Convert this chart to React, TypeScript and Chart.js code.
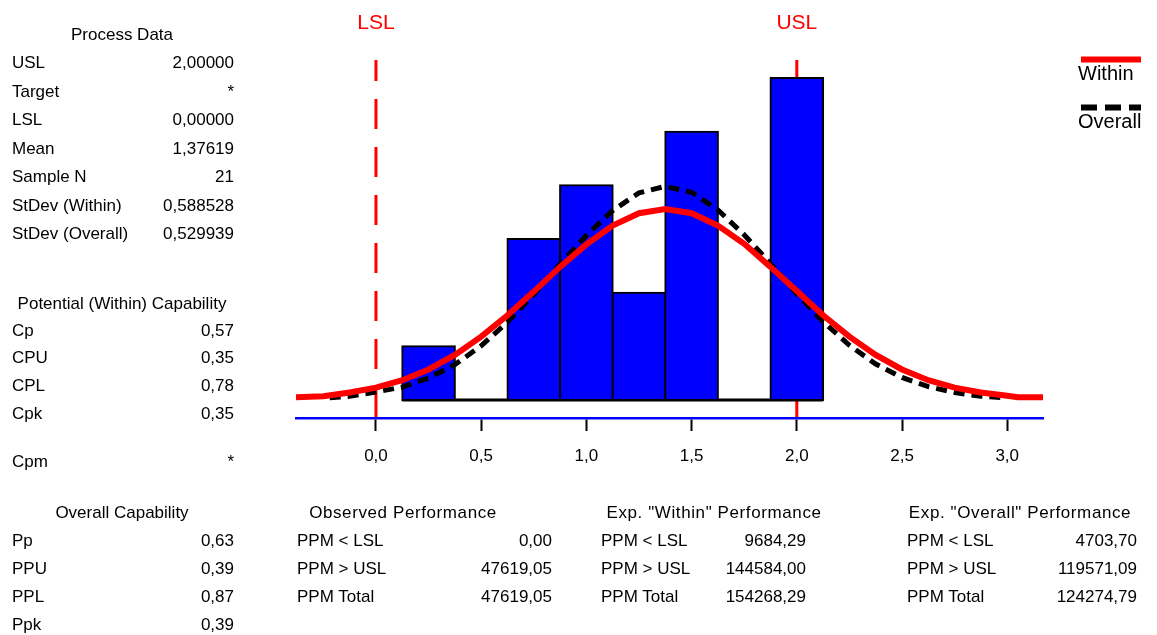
import React, { useEffect, useRef } from "react";
import { Chart, registerables } from "chart.js";

Chart.register(...registerables);

// ---------- chart data ----------
const binCenters = [0.25, 0.5, 0.75, 1.0, 1.25, 1.5, 1.75, 2.0];
const binCounts = [1, 0, 3, 4, 2, 5, 0, 6];
const binWidth = 0.25;

const specLimits = [0, 2];
const specNames = ["LSL", "USL"];

const xTicks = [0, 0.5, 1.0, 1.5, 2.0, 2.5, 3.0];
const xMin = -0.38;
const xMax = 3.17;
const yMin = -0.335;
const yMax = 6.335;

const withinX = [-0.38, -0.25, -0.125, 0, 0.125, 0.25, 0.375, 0.5, 0.625, 0.75, 0.875, 1.0, 1.125, 1.25, 1.375, 1.5, 1.625, 1.75, 1.875, 2.0, 2.125, 2.25, 2.375, 2.5, 2.625, 2.75, 2.875, 3.0, 3.05, 3.17];
const withinY = [0.05, 0.07, 0.14, 0.23, 0.37, 0.57, 0.84, 1.18, 1.58, 2.02, 2.48, 2.9, 3.25, 3.48, 3.56, 3.48, 3.25, 2.91, 2.48, 2.03, 1.58, 1.18, 0.84, 0.57, 0.37, 0.23, 0.14, 0.08, 0.05, 0.05];

const overallX = [-0.22, -0.125, 0, 0.125, 0.25, 0.375, 0.5, 0.625, 0.75, 0.875, 1.0, 1.125, 1.25, 1.375, 1.5, 1.625, 1.75, 1.875, 2.0, 2.125, 2.25, 2.375, 2.5, 2.625, 2.75, 2.875, 3.0];
const overallY = [0.04, 0.07, 0.15, 0.24, 0.41, 0.66, 1.01, 1.45, 1.97, 2.53, 3.07, 3.53, 3.86, 3.98, 3.87, 3.54, 3.08, 2.54, 1.98, 1.46, 1.02, 0.67, 0.42, 0.25, 0.14, 0.07, 0.04];

const legendNames = ["Within", "Overall"];

// ---------- text panels ----------
const processLabels = ["USL", "Target", "LSL", "Mean", "Sample N", "StDev (Within)", "StDev (Overall)"];
const processValues = ["2,00000", "*", "0,00000", "1,37619", "21", "0,588528", "0,529939"];
const potentialLabels = ["Cp", "CPU", "CPL", "Cpk", "Cpm"];
const potentialValues = ["0,57", "0,35", "0,78", "0,35", "*"];
const overallCapLabels = ["Pp", "PPU", "PPL", "Ppk"];
const overallCapValues = ["0,63", "0,39", "0,87", "0,39"];
const ppmLabels = ["PPM < LSL", "PPM > USL", "PPM Total"];
const observedValues = ["0,00", "47619,05", "47619,05"];
const expWithinValues = ["9684,29", "144584,00", "154268,29"];
const expOverallValues = ["4703,70", "119571,09", "124274,79"];

const FONT = '"Liberation Sans", Arial, sans-serif';
const FS = 17;
const W = 1157;
const H = 635;

type TProps = { text: string; x: number; base: number; align?: "left" | "right" | "center"; ls?: number };

function T({ text, x, base, align = "left", ls = 0 }: TProps) {
  const style: React.CSSProperties = {
    position: "absolute",
    top: base - 14.4,
    fontFamily: FONT,
    fontSize: FS,
    lineHeight: FS + "px",
    letterSpacing: ls ? ls + "px" : undefined,
    whiteSpace: "nowrap",
    color: "#000",
  };
  if (align === "left") style.left = x;
  else if (align === "right") style.right = W - x;
  else {
    style.left = x;
    style.transform = "translateX(-50%)";
  }
  return <div style={style}>{text}</div>;
}

const overlayPlugin = {
  id: "overlay",
  afterDraw(chart: any) {
    const ctx = chart.ctx as CanvasRenderingContext2D;
    const xs = chart.scales.x;
    ctx.save();
    ctx.fillStyle = "#ff0000";
    ctx.font = `21px ${FONT}`;
    ctx.textAlign = "center";
    ctx.textBaseline = "alphabetic";
    specLimits.forEach((v, i) => {
      ctx.fillText(specNames[i], xs.getPixelForValue(v), 29);
    });
    ctx.lineWidth = 6;
    ctx.strokeStyle = "#ff0000";
    ctx.setLineDash([]);
    ctx.beginPath();
    ctx.moveTo(1081, 59.5);
    ctx.lineTo(1141, 59.5);
    ctx.stroke();
    ctx.strokeStyle = "#000000";
    ctx.setLineDash([16, 8]);
    ctx.beginPath();
    ctx.moveTo(1081, 107.5);
    ctx.lineTo(1141, 107.5);
    ctx.stroke();
    ctx.setLineDash([]);
    ctx.fillStyle = "#000";
    ctx.font = `20px ${FONT}`;
    ctx.textAlign = "left";
    ctx.fillText(legendNames[0], 1078, 80);
    ctx.fillText(legendNames[1], 1078, 128);
    ctx.restore();
  },
};

function CapabilityChart() {
  const ref = useRef<HTMLCanvasElement | null>(null);
  useEffect(() => {
    if (!ref.current) return;
    const xAxisHeight = 45;
    const chart = new Chart(ref.current, {
      type: "bar",
      data: {
        datasets: [
          {
            type: "line",
            label: legendNames[0],
            data: withinX.map((x, i) => ({ x, y: withinY[i] })),
            borderColor: "#ff0000",
            borderWidth: 6,
            pointRadius: 0,
            tension: 0,
            fill: false,
            order: 0,
          } as any,
          {
            type: "line",
            label: legendNames[1],
            data: overallX.map((x, i) => ({ x, y: overallY[i] })),
            borderColor: "#000000",
            borderWidth: 5,
            borderDash: [11, 7],
            pointRadius: 0,
            tension: 0,
            fill: false,
            order: 1,
          } as any,
          {
            type: "bar",
            label: "Histogram",
            data: binCenters.map((x, i) => ({ x, y: binCounts[i] })),
            backgroundColor: "#0000ff",
            borderColor: "#000000",
            borderWidth: 2,
            borderSkipped: false,
            inflateAmount: 1,
            barPercentage: 1,
            categoryPercentage: 1,
            order: 2,
          } as any,
          {
            type: "line",
            label: "base",
            data: [
              { x: binCenters[0] - binWidth / 2, y: 0 },
              { x: binCenters[binCenters.length - 1] + binWidth / 2, y: 0 },
            ],
            borderColor: "#000000",
            borderWidth: 3,
            pointRadius: 0,
            order: 3,
          } as any,
          ...specLimits.map(
            (v, i) =>
              ({
                type: "line",
                label: specNames[i],
                data: [
                  { x: v, y: yMax },
                  { x: v, y: yMin },
                ],
                borderColor: "#ff0000",
                borderWidth: 3,
                borderDash: [30, 18],
                borderDashOffset: 9,
                pointRadius: 0,
                order: 4 + i,
              } as any)
          ),
        ],
      },
      options: {
        responsive: false,
        animation: false,
        devicePixelRatio: 1,
        layout: { padding: { left: 296, right: W - 1043, top: 60, bottom: H - 418 - xAxisHeight } },
        plugins: { legend: { display: false }, tooltip: { enabled: false }, title: { display: false } },
        scales: {
          x: {
            type: "linear",
            min: xMin,
            max: xMax,
            offset: false,
            border: { display: true, color: "#0000ff", width: 2.5 },
            grid: {
              display: true,
              drawOnChartArea: false,
              drawTicks: true,
              tickLength: 13,
              tickColor: "#000000",
              tickWidth: 2,
              offset: false,
            },
            ticks: {
              color: "#000",
              font: { family: FONT, size: FS },
              padding: 15,
              maxRotation: 0,
              autoSkip: false,
              callback: (v: any) => Number(v).toFixed(1).replace(".", ","),
            },
            afterBuildTicks: (scale: any) => {
              scale.ticks = xTicks.map((value) => ({ value }));
            },
            afterFit: (scale: any) => {
              scale.height = xAxisHeight;
            },
          },
          y: {
            type: "linear",
            min: yMin,
            max: yMax,
            display: false,
          },
        },
      } as any,
      plugins: [overlayPlugin],
    });
    return () => chart.destroy();
  }, []);
  return <canvas ref={ref} width={W} height={H} style={{ position: "absolute", left: 0, top: 0, width: W, height: H }} />;
}

export default function App() {
  const procBase = (i: number) => 68.5 + 28.5 * i;
  const potBases = [336, 363.5, 391.5, 419.5, 467];
  const botBases = [546.5, 574.5, 602.5, 630.5];
  const headBase = 518.5;
  const tables = [
    { head: "Observed Performance", center: 403, lx: 297, rx: 552, vals: observedValues },
    { head: 'Exp. "Within" Performance', center: 714, lx: 601, rx: 806, vals: expWithinValues },
    { head: 'Exp. "Overall" Performance', center: 1020, lx: 907, rx: 1137, vals: expOverallValues },
  ];
  return (
    <div style={{ position: "absolute", left: 0, top: 0, width: W, height: H, background: "#fff", overflow: "hidden" }}>
      <CapabilityChart />
      <T text="Process Data" x={122} base={40.7} align="center" />
      {processLabels.map((l, i) => (
        <React.Fragment key={"p" + i}>
          <T text={l} x={12} base={procBase(i)} />
          <T text={processValues[i]} x={234} base={procBase(i)} align="right" />
        </React.Fragment>
      ))}
      <T text="Potential (Within) Capability" x={122} base={309} align="center" />
      {potentialLabels.map((l, i) => (
        <React.Fragment key={"c" + i}>
          <T text={l} x={12} base={potBases[i]} />
          <T text={potentialValues[i]} x={234} base={potBases[i]} align="right" />
        </React.Fragment>
      ))}
      <T text="Overall Capability" x={122} base={headBase} align="center" />
      {overallCapLabels.map((l, i) => (
        <React.Fragment key={"o" + i}>
          <T text={l} x={12} base={botBases[i]} />
          <T text={overallCapValues[i]} x={234} base={botBases[i]} align="right" />
        </React.Fragment>
      ))}
      {tables.map((t, k) => (
        <React.Fragment key={"t" + k}>
          <T text={t.head} x={t.center} base={headBase} align="center" ls={0.6} />
          {ppmLabels.map((l, i) => (
            <React.Fragment key={"r" + i}>
              <T text={l} x={t.lx} base={botBases[i]} />
              <T text={t.vals[i]} x={t.rx} base={botBases[i]} align="right" />
            </React.Fragment>
          ))}
        </React.Fragment>
      ))}
    </div>
  );
}
